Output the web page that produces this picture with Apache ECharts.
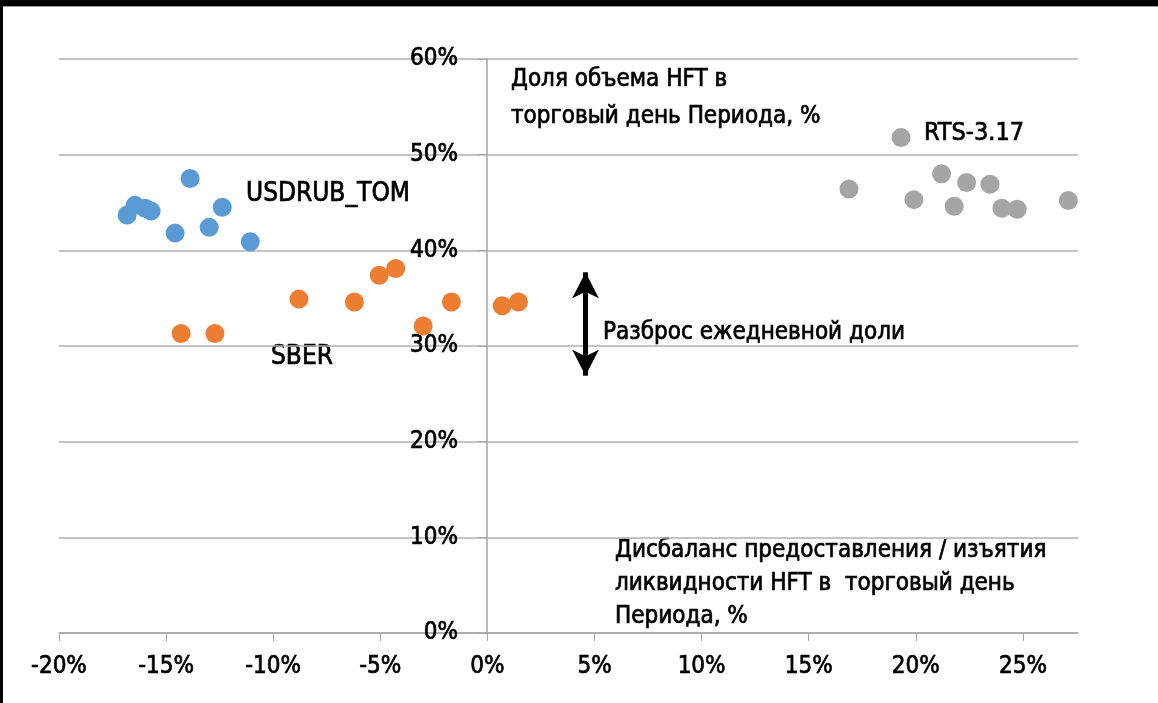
<!DOCTYPE html>
<html>
<head>
<meta charset="utf-8">
<script src="https://cdn.jsdelivr.net/npm/echarts@6/dist/echarts.min.js"></script>
<style>
  html, body { margin: 0; padding: 0; background: #fff; }
  #chart { width: 1158px; height: 703px; }
</style>
</head>
<body>
<div id="chart"></div>
<script>
// данные (в %)
const usdX = [-16.82, -16.45, -15.98, -15.70, -13.88, -12.38, -14.58, -12.99, -11.07];
const usdY = [43.7, 44.7, 44.4, 44.1, 47.5, 44.5, 41.8, 42.4, 40.9];
const sberX = [-14.30, -12.72, -8.80, -6.21, -5.05, -4.28, -3.00, -1.68, 0.69, 1.45];
const sberY = [31.3, 31.3, 34.9, 34.6, 37.4, 38.1, 32.1, 34.6, 34.2, 34.6];
const rtsX = [19.31, 16.88, 19.91, 21.20, 21.79, 22.37, 23.46, 24.02, 24.73, 27.12];
const rtsY = [51.8, 46.4, 45.3, 48.0, 44.6, 47.1, 46.9, 44.4, 44.3, 45.2];
const xTicks = [-20, -15, -10, -5, 0, 5, 10, 15, 20, 25];

const FONT = '"Liberation Sans Narrow", "DejaVu Sans Condensed", sans-serif';
// немного утолщаем обычное начертание (в оригинале шрифт «medium»)
const THICK = { textBorderColor: '#000', textBorderWidth: 0.7 };

function pairs(xs, ys) {
  return xs.map((x, i) => [x, ys[i]]);
}

function note(x, y, text, size, extra) {
  return {
    type: 'text', x: x, y: y,
    style: Object.assign({
      text: text, font: size + 'px ' + FONT, fill: '#000',
      stroke: '#000', lineWidth: 0.7, verticalAlign: 'middle'
    }, extra || {})
  };
}

const myChart = echarts.init(document.getElementById('chart'));

myChart.setOption({
  animation: false,
  grid: { left: 59, right: 80, top: 59, bottom: 70, containLabel: false, outerBoundsMode: 'none' },
  xAxis: {
    type: 'value',
    min: -20,
    max: 27.57,
    interval: 5,
    splitLine: { show: false },
    axisLine: { onZero: false, lineStyle: { color: '#a6a6a6', width: 1.5 } },
    axisTick: { show: true, length: 8, customValues: xTicks, lineStyle: { color: '#a6a6a6' } },
    axisLabel: Object.assign({
      customValues: xTicks,
      formatter: '{value}%',
      margin: 22,
      color: '#000',
      fontFamily: FONT,
      fontSize: 24
    }, THICK)
  },
  yAxis: {
    type: 'value',
    min: 0,
    max: 60,
    interval: 10,
    offset: -428, // ось Y проходит через 0% по X
    splitLine: { show: true, lineStyle: { color: '#b0b0b0', width: 1.5 } },
    axisLine: { show: true, onZero: false, lineStyle: { color: '#a6a6a6', width: 1.5 } },
    axisTick: { show: true, length: 9, lineStyle: { color: '#a6a6a6' } },
    axisLabel: Object.assign({
      formatter: '{value}%',
      margin: 29,
      color: '#000',
      fontFamily: FONT,
      fontSize: 24
    }, THICK)
  },
  series: [
    {
      name: 'USDRUB_TOM',
      type: 'scatter',
      symbolSize: 19,
      itemStyle: { color: '#5b9bd5', opacity: 1 },
      data: pairs(usdX, usdY)
    },
    {
      name: 'SBER',
      type: 'scatter',
      symbolSize: 19,
      itemStyle: { color: '#ed7d31', opacity: 1 },
      data: pairs(sberX, sberY),
      markLine: {
        silent: true,
        symbol: ['arrow', 'arrow'],
        symbolSize: [20, 26],
        label: { show: false },
        lineStyle: { color: '#000', width: 5, type: 'solid' },
        data: [[{ coord: [4.58, 37.7] }, { coord: [4.58, 26.9] }]]
      }
    },
    {
      name: 'RTS-3.17',
      type: 'scatter',
      symbolSize: 19,
      itemStyle: { color: '#a5a5a5', opacity: 1 },
      data: pairs(rtsX, rtsY)
    }
  ],
  graphic: [
    // рамка скриншота
    { type: 'rect', left: 0, top: 0, shape: { width: 1158, height: 6 }, style: { fill: '#000' } },
    { type: 'rect', left: 0, top: 6, shape: { width: 1158, height: 1 }, style: { fill: '#999' } },
    { type: 'rect', left: 0, top: 0, shape: { width: 3, height: 703 }, style: { fill: '#000' } },
    // подписи
    note(511, 61.5, 'Доля объема HFT в\nторговый день Периода, %', 24, { lineHeight: 37, verticalAlign: 'top' }),
    note(246, 194, 'USDRUB_TOM', 26),
    note(271, 357, 'SBER', 26),
    note(924, 133, 'RTS-3.17', 25),
    note(603, 333, 'Разброс ежедневной доли', 24),
    note(615, 534.5, 'Дисбаланс предоставления / изъятия\nликвидности HFT в  торговый день\nПериода, %', 24, { lineHeight: 33, verticalAlign: 'top' })
  ]
});
</script>
</body>
</html>
